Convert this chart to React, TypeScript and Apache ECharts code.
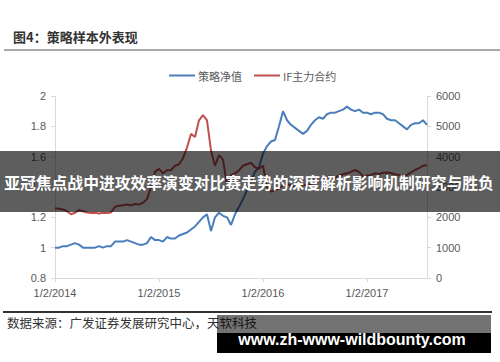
import React, { useEffect, useRef } from "react";
import * as echarts from "echarts";

// biweekly observations starting 2014-01-02
const startDate = "2014-01-02";
const stepDays = 14;
const xTickLabels = ["1/2/2014", "1/2/2015", "1/2/2016", "1/2/2017"];
const tickEvery = 26;

const strategyNav = [
  1.0, 1.0, 1.01, 1.01, 1.02, 1.03, 1.02, 1.0, 1.0, 1.0,
  1.0, 1.01, 1.0, 1.01, 1.01, 1.04, 1.04, 1.04, 1.05, 1.04,
  1.03, 1.02, 1.02, 1.03, 1.07, 1.05, 1.05, 1.04, 1.07, 1.06,
  1.06, 1.08, 1.09, 1.1, 1.12, 1.14, 1.17, 1.2, 1.22, 1.11,
  1.2, 1.23, 1.21, 1.2, 1.15, 1.22, 1.27, 1.32, 1.38, 1.44,
  1.5, 1.53, 1.62, 1.67, 1.7, 1.71, 1.8, 1.9, 1.84, 1.81,
  1.79, 1.77, 1.75, 1.77, 1.81, 1.84, 1.86, 1.85, 1.88, 1.89,
  1.89, 1.9, 1.91, 1.93, 1.91, 1.9, 1.91, 1.89, 1.89, 1.88,
  1.89, 1.89, 1.88, 1.85, 1.84, 1.84, 1.82, 1.8, 1.78, 1.81,
  1.82, 1.82, 1.84, 1.81,
];

const ifMain = [
  2300, 2280, 2260, 2200, 2100, 2150, 2240, 2200, 2160, 2140,
  2150, 2130, 2150, 2140, 2160, 2350, 2380, 2400, 2420, 2400,
  2440, 2420, 2480, 2600, 3000, 3500, 3600, 3450, 3550, 3560,
  3700, 3750, 3950, 4300, 4750, 4650, 5200, 5370, 5200, 4200,
  3700, 4050, 3900, 3050, 3400, 3450, 3550, 3700, 3750, 3800,
  3650, 3600, 3700, 3000, 2850, 2900, 2950, 3050, 3100, 3050,
  3000, 3050, 3080, 3050, 3100, 3150, 3200, 3250, 3330, 3350,
  3300, 3380, 3420, 3450, 3500, 3560, 3500, 3350, 3380, 3400,
  3450, 3430, 3470, 3480, 3460, 3420, 3400, 3330, 3400, 3480,
  3560, 3620, 3700, 3720,
];

const seriesNames = ["策略净值", "IF主力合约"];
const titleText = "图4：策略样本外表现";
const sourceText = "数据来源：广发证券发展研究中心，天软科技";
const bannerText = "亚冠焦点战中进攻效率演变对比赛走势的深度解析影响机制研究与胜负";
const watermarkText = "www.zh-www-wildbounty.com";

function buildDates(n: number): string[] {
  const out: string[] = [];
  const base = new Date(startDate + "T00:00:00Z").getTime();
  for (let i = 0; i < n; i++) {
    const d = new Date(base + i * stepDays * 86400000);
    out.push(d.toISOString().slice(0, 10));
  }
  return out;
}

export default function App() {
  const ref = useRef<HTMLDivElement>(null);
  useEffect(() => {
    document.body.style.margin = "0";
    if (!ref.current) return;
    const chart = echarts.init(ref.current, null, { renderer: "svg" });
    const categories = buildDates(strategyNav.length);
    const labelColor = "#595959";
    const axisColor = "#d9d9d9";
    const font = "Liberation Sans";
    chart.setOption({
      animation: false,
      backgroundColor: "#ffffff",
      textStyle: { fontFamily: font },
      grid: { left: 55, right: 73, top: 96, bottom: 84, containLabel: false },
      legend: {
        left: 164,
        top: 65,
        itemWidth: 26,
        itemHeight: 2,
        itemGap: 12,
        icon: "rect",
        textStyle: { color: labelColor, fontSize: 11, fontFamily: "Noto Sans CJK SC", padding: [0, 0, 0, -2] },
        data: seriesNames,
      },
      xAxis: {
        type: "category",
        data: categories,
        boundaryGap: false,
        axisLine: { lineStyle: { color: axisColor, width: 1 } },
        axisTick: { show: true, interval: tickEvery - 1, length: 4, lineStyle: { color: axisColor } },
        axisLabel: {
          interval: tickEvery - 1,
          margin: 9,
          color: labelColor,
          fontSize: 11,
          fontFamily: font,
          formatter: (_v: string, idx: number) => xTickLabels[Math.round(idx / tickEvery)] ?? "",
        },
        splitLine: { show: false },
      },
      yAxis: [
        {
          type: "value",
          min: 0.8,
          max: 2,
          interval: 0.2,
          axisLine: { show: true, lineStyle: { color: axisColor } },
          axisTick: { show: true, length: 4, lineStyle: { color: axisColor } },
          axisLabel: { color: labelColor, fontSize: 11, fontFamily: font, margin: 9 },
          splitLine: { show: false },
        },
        {
          type: "value",
          min: 0,
          max: 6000,
          interval: 1000,
          position: "right",
          axisLine: { show: true, lineStyle: { color: axisColor } },
          axisTick: { show: true, length: 4, lineStyle: { color: axisColor } },
          axisLabel: {
            color: labelColor,
            fontSize: 11,
            fontFamily: font,
            margin: 9,
            formatter: (v: number) => String(v),
          },
          splitLine: { show: false },
        },
      ],
      series: [
        {
          name: seriesNames[0],
          type: "line",
          data: strategyNav,
          yAxisIndex: 0,
          showSymbol: false,
          symbol: "none",
          lineStyle: { color: "#4a7ebb", width: 2 },
          itemStyle: { color: "#4a7ebb" },
        },
        {
          name: seriesNames[1],
          type: "line",
          data: ifMain,
          yAxisIndex: 1,
          showSymbol: false,
          symbol: "none",
          lineStyle: { color: "#c0504d", width: 2 },
          itemStyle: { color: "#c0504d" },
        },
      ],
      graphic: [
        {
          type: "text",
          left: 13,
          top: 30,
          style: { text: titleText, fill: "#333", font: "bold 13px 'Noto Sans CJK SC'" },
        },
        {
          type: "line",
          shape: { x1: 4, y1: 50, x2: 500, y2: 50 },
          style: { stroke: "#8c8c8c", lineWidth: 1.5 },
        },
        {
          type: "line",
          shape: { x1: 3, y1: 312, x2: 492, y2: 312 },
          style: { stroke: "#333", lineWidth: 2 },
        },
        {
          type: "text",
          left: 7,
          top: 316,
          style: { text: sourceText, fill: "#333", font: "12.5px 'Noto Sans CJK SC'" },
        },
        {
          type: "rect",
          shape: { x: 0, y: 151, width: 500, height: 61 },
          style: { fill: "rgba(0,0,0,0.63)" },
          z: 100,
        },
        {
          type: "text",
          x: 249,
          y: 182,
          z: 101,
          style: {
            text: bannerText,
            fill: "#fff",
            font: "bold 15.8px 'Noto Sans CJK SC'",
            align: "center",
            verticalAlign: "middle",
          },
        },
        {
          type: "rect",
          shape: { x: 217, y: 315, width: 274, height: 18 },
          style: { fill: "rgba(0,0,0,0.55)" },
          z: 100,
        },
        {
          type: "rect",
          shape: { x: 217, y: 333, width: 274, height: 20 },
          style: { fill: "#000" },
          z: 100,
        },
        {
          type: "text",
          x: 352,
          y: 339,
          z: 101,
          style: {
            text: watermarkText,
            fill: "#fff",
            font: "bold 16px 'Liberation Sans'",
            align: "center",
            verticalAlign: "middle",
          },
        },
      ],
    });
    return () => chart.dispose();
  }, []);
  return <div ref={ref} style={{ width: 500, height: 362 }} />;
}
